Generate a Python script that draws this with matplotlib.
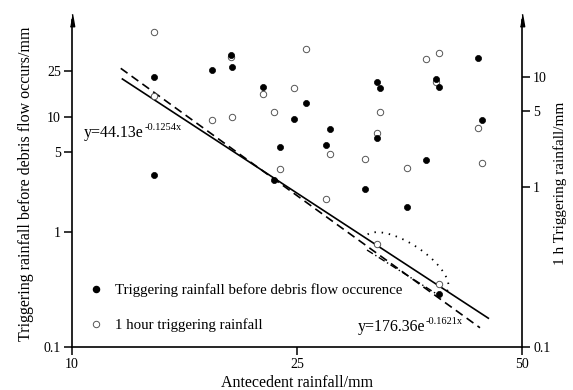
import numpy as np
import matplotlib
matplotlib.use('Agg')
import matplotlib.pyplot as plt
from matplotlib.ticker import NullLocator
from matplotlib.lines import Line2D

plt.rcParams['font.family'] = ['Liberation Serif', 'DejaVu Serif']

# ---------------- data ----------------
antecedent = [15.46, 15.46, 19.31, 20.57, 20.67, 22.73, 23.48, 23.88, 24.78,
              25.97, 28.26, 28.70, 32.56, 33.92, 33.92, 34.19, 37.19, 39.37,
              40.41, 40.74, 40.74, 45.14, 45.56]
trigger_before = [22.3, 3.15, 25.5, 34.8, 27.4, 18.2, 2.82, 5.45, 9.67,
                  13.2, 5.74, 7.91, 2.35, 20.0, 6.57, 18.0, 1.64, 4.25,
                  21.4, 18.3, 0.290, 32.4, 9.36]
trigger_1h = [54.6, 15.1, 9.48, 33.0, 9.94, 15.7, 11.0, 3.55, 17.9,
              38.8, 1.94, 4.74, 4.34, 7.22, 0.79, 11.0, 3.58, 31.9,
              20.3, 35.8, 0.355, 8.07, 3.96]

fit_solid_x = [13.36, 46.26]
fit_solid_y = [21.4, 0.178]
fit_dashed_x = [13.25, 45.33]
fit_dashed_y = [26.5, 0.147]
fit_dashdot_x = [32.78, 40.89]
fit_dashdot_y = [0.697, 0.277]
ellipse_ends_x = [32.56, 41.67]
ellipse_ends_y = [0.906, 0.307]

x_ticks = [10, 25, 50]
x_tick_labels = ['10', '25', '50']
left_ticks = [0.1, 1, 5, 10, 25]
left_tick_labels = ['0.1', '1', '5', '10', '25']
right_ticks = [0.1, 1, 5, 10]
right_tick_labels = ['0.1', '1', '5', '10']
# log10 of left-axis values at which the right-axis ticks sit
right_ref_left_log = [-1.0, 0.394, 1.055, 1.350]

label_before = 'Triggering rainfall before debris flow occurence'
label_1h = '1 hour triggering rainfall'
eq_left_base, eq_left_exp = 'y=44.13e', '-0.1254x'
eq_right_base, eq_right_exp = 'y=176.36e', '-0.1621x'


def _pw(v, xs, ys):
    v = np.asarray(v, dtype=float)
    xs = np.asarray(xs, float); ys = np.asarray(ys, float)
    out = np.interp(v, xs, ys)
    lo = v < xs[0]
    hi = v > xs[-1]
    out = np.where(lo, ys[0] + (v - xs[0]) * (ys[1] - ys[0]) / (xs[1] - xs[0]), out)
    out = np.where(hi, ys[-1] + (v - xs[-1]) * (ys[-1] - ys[-2]) / (xs[-1] - xs[-2]), out)
    return out


XK = [10.0, 25.0, 50.0]
PK = [0.0, 0.5, 1.0]
RK = list(np.log10(right_ticks))


def _safe_log(v):
    v = np.asarray(v, dtype=float)
    with np.errstate(divide='ignore', invalid='ignore'):
        return np.log10(np.clip(v, 1e-300, None))


def left_to_right(v):
    return 10 ** _pw(_safe_log(v), right_ref_left_log, RK)


def right_to_left(v):
    return 10 ** _pw(_safe_log(v), RK, right_ref_left_log)


W, H = 573, 390
fig = plt.figure(figsize=(W / 100, H / 100), dpi=100)
ax = fig.add_axes([72 / W, (H - 347) / H, 450 / W, 327 / H])

ax.set_xscale('function', functions=(lambda v: _pw(v, XK, PK), lambda p: _pw(p, PK, XK)))
ax.set_yscale('log')
ax.set_xlim(10, 50)
ax.set_ylim(0.1, 10 ** (-1 + 327 / 115))

ax.set_xticks(x_ticks, labels=x_tick_labels)
ax.set_yticks(left_ticks, labels=left_tick_labels)
ax.xaxis.set_minor_locator(NullLocator())
ax.yaxis.set_minor_locator(NullLocator())

for s in ['top', 'right']:
    ax.spines[s].set_visible(False)
for s in ['left', 'bottom']:
    ax.spines[s].set_linewidth(1.2)
ax.tick_params(direction='out', length=6, width=1.1, labelsize=10, pad=2)

sec = ax.secondary_yaxis('right', functions=(left_to_right, right_to_left))
sec.set_yticks(right_ticks, labels=right_tick_labels)
sec.yaxis.set_minor_locator(NullLocator())
sec.spines['right'].set_linewidth(1.2)
sec.tick_params(direction='out', length=6, width=1.1, labelsize=10, pad=2)

# fit lines
ax.plot(fit_solid_x, fit_solid_y, color='black', lw=1.2, ls='-')
ax.plot(fit_dashed_x, fit_dashed_y, color='black', lw=1.2, dashes=(5, 3))
ax.plot(fit_dashdot_x, fit_dashdot_y, color='black', lw=1.0, dashes=(5, 2, 1, 2))

# dotted ellipse (upper half) around the lowest event
p1 = ax.transData.transform((ellipse_ends_x[0], ellipse_ends_y[0]))
p2 = ax.transData.transform((ellipse_ends_x[1], ellipse_ends_y[1]))
c = (p1 + p2) / 2
a = np.linalg.norm(p2 - p1) / 2
u = (p2 - p1) / (2 * a)
n = np.array([-u[1], u[0]])
if n[1] < 0:
    n = -n
b = 20.0
t = np.linspace(0, np.pi, 80)
pts = c[None, :] + np.outer(np.cos(t), u) * a + np.outer(np.sin(t), n) * b
dpts = ax.transData.inverted().transform(pts)
ax.plot(dpts[:, 0], dpts[:, 1], color='black', lw=1.3, ls=(0, (0.8, 3.2)))

# points
ax.plot(antecedent, trigger_1h, ls='none', marker='o', ms=4.6, mfc='white',
        mec='#555555', mew=0.7, label=label_1h, zorder=3)
ax.plot(antecedent, trigger_before, ls='none', marker='o', ms=4.4, mfc='black',
        mec='black', mew=0.5, label=label_before, zorder=4)

# equations (base text + raised exponent)
for base, expo, xy in [(eq_left_base, eq_left_exp, (0.026, 0.654)),
                       (eq_right_base, eq_right_exp, (0.635, 0.062))]:
    tb = ax.text(xy[0], xy[1], base, transform=ax.transAxes, fontsize=11.5,
                 ha='left', va='center')
    ax.annotate(expo, xy=(1, 1), xycoords=tb, xytext=(0.5, 1.5),
                textcoords='offset points', fontsize=7.5, ha='left', va='top')

# legend
handles = [Line2D([], [], ls='none', marker='o', ms=4.4, mfc='black', mec='black'),
           Line2D([], [], ls='none', marker='o', ms=4.6, mfc='white', mec='#555555', mew=0.7)]
ax.legend(handles, [label_before, label_1h], loc='lower left',
          bbox_to_anchor=(0.036, 0.046), frameon=False, fontsize=10.7,
          handlelength=1.0, handletextpad=0.8, labelspacing=1.4,
          borderpad=0, borderaxespad=0)

# axis labels
ax.set_xlabel('Antecedent rainfall/mm', fontsize=11.5)
ax.xaxis.set_label_coords(0.5, -0.087)
ax.set_ylabel('Triggering rainfall before debris flow occurs/mm', fontsize=11.5)
ax.yaxis.set_label_coords(-0.084, 0.5)
sec.set_ylabel('1 h Triggering rainfall/mm', fontsize=11, rotation=90)
sec.yaxis.set_label_coords(1.069, 0.5, transform=ax.transAxes)

# arrow heads on the y axes
arrow = [(-0.35, -1), (0.35, -1), (0, 1)]
for xa in (0, 1):
    ax.plot([xa], [1.0], transform=ax.transAxes, marker=arrow, ms=9,
            color='black', clip_on=False, zorder=5)

fig.savefig('out.png', dpi=100)
